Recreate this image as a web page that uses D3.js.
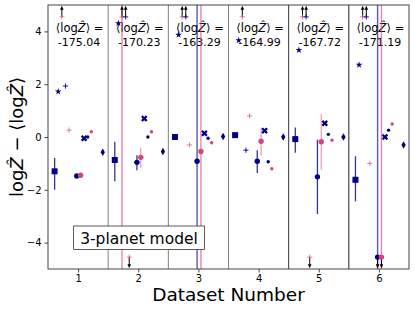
<!DOCTYPE html>
<html>
<head>
<meta charset="utf-8">
<script src="https://cdn.jsdelivr.net/npm/d3@7"></script>
<style>
  body { margin: 0; background: #fff; }
  text { font-family: "DejaVu Sans", sans-serif; }
</style>
</head>
<body>
<div id="chart"></div>
<script>
// Datasets and the mean evidence printed at the top of each panel
const datasets = [1, 2, 3, 4, 5, 6];
const meanLogZ = ["-175.04", "-170.23", "-163.29", "-164.99", "-167.72", "-171.19"];
const yTicks = [-4, -2, 0, 2, 4];

// One array per method (Infinity = off the top, -Infinity = off the bottom)
const squareVals = [-1.3, -0.87, 0.0, 0.07, -0.08, -1.62];
const squareLo = [-2.0, -1.68, null, null, -0.6, -2.44];
const squareHi = [-0.79, -0.18, null, null, 0.36, -0.73];
const starVals = [1.72, 4.31, 3.87, 3.66, 3.29, 2.73];
const pinkTopVals = [Infinity, Infinity, Infinity, Infinity, Infinity, Infinity];
const pinkTopLo = [null, -Infinity, null, null, null, null];
const pinkTopHi = [null, Infinity, null, null, null, null];
const navyPlusVals = [1.93, Infinity, Infinity, -0.5, Infinity, Infinity];
const pinkPlusVals = [0.26, -Infinity, -0.3, 0.8, -Infinity, -1.0];
const navyDotVals = [-1.48, -0.96, -0.92, -0.92, -1.51, -Infinity];
const navyDotLo = [null, -1.26, -Infinity, -1.36, -2.92, -Infinity];
const navyDotHi = [null, -0.69, Infinity, -0.5, -0.1, Infinity];
const pinkDotVals = [-1.45, -0.77, -0.55, -0.16, -0.18, -Infinity];
const pinkDotLo = [null, -1.17, -Infinity, -0.69, -1.24, -Infinity];
const pinkDotHi = [null, -0.41, Infinity, 0.35, 0.87, Infinity];
const xMarkVals = [-0.05, 0.70, 0.14, 0.24, 0.52, 0.0];
const smallNavyVals = [0.0, 0.0, -0.05, -0.94, 0.1, 0.26];
const smallPinkVals = [0.2, 0.2, -0.22, -1.2, -0.12, 0.49];
const diamondVals = [-0.58, -0.55, 0.02, 0.0, 0.0, -0.3];

const NAVY = "#000080";
const PINK = "#d4457c";

// style + horizontal offset of each method inside a panel
const methods = [
  { vals: squareVals, lo: squareLo, hi: squareHi, dx: -0.39, color: NAVY, sym: "square" },
  { vals: starVals, dx: -0.33, color: NAVY, sym: "star" },
  { vals: pinkTopVals, lo: pinkTopLo, hi: pinkTopHi, dx: -0.27, color: PINK, sym: "plus" },
  { vals: navyPlusVals, dx: -0.21, color: NAVY, sym: "plus" },
  { vals: pinkPlusVals, dx: -0.15, color: PINK, sym: "plus" },
  { vals: navyDotVals, lo: navyDotLo, hi: navyDotHi, dx: -0.022, color: NAVY, sym: "dot" },
  { vals: pinkDotVals, lo: pinkDotLo, hi: pinkDotHi, dx: 0.042, color: PINK, sym: "dot" },
  { vals: xMarkVals, dx: 0.1, color: NAVY, sym: "x" },
  { vals: smallNavyVals, dx: 0.16, color: NAVY, sym: "small" },
  { vals: smallPinkVals, dx: 0.22, color: PINK, sym: "small" },
  { vals: diamondVals, dx: 0.41, color: NAVY, sym: "diamond" },
];

const W = 415, H = 309;
const margin = { top: 5, right: 6, bottom: 40, left: 48 };
const svg = d3.select("#chart").append("svg").attr("width", W).attr("height", H);

const x = d3.scaleLinear().domain([0.5, 6.5]).range([margin.left, W - margin.right]);
const y = d3.scaleLinear().domain([-5, 5]).range([H - margin.bottom, margin.top]);
const CLIP = 4.55;

svg.append("clipPath").attr("id", "plot")
  .append("rect")
  .attr("x", x(0.5)).attr("y", y(5))
  .attr("width", x(6.5) - x(0.5)).attr("height", y(-5) - y(5));

// panel separators
const sepColors = ["#808080", "#808080", "#808080", "#333", "#222"];
svg.selectAll("line.sep")
  .data(d3.range(1.5, 6, 1))
  .enter().append("line")
  .attr("class", "sep")
  .attr("x1", (d) => x(d)).attr("x2", (d) => x(d))
  .attr("y1", y(5)).attr("y2", y(-5))
  .attr("stroke", (d, i) => sepColors[i])
  .attr("stroke-width", 1);

// mean log Z annotations
const ann = svg.append("g").selectAll("text")
  .data(datasets).enter().append("text")
  .attr("text-anchor", "middle")
  .attr("font-size", 11)
  .attr("fill", "#000");
ann.append("tspan")
  .attr("x", (d) => x(d) + 1.5).attr("y", 31.5)
  .attr("font-size", 11.5)
  .html("⟨log<tspan font-style='italic'>Ẑ</tspan>⟩ =");
ann.append("tspan")
  .attr("x", (d) => x(d) + 1).attr("y", 46)
  .text((d, i) => meanLogZ[i]);

const g = svg.append("g").attr("clip-path", "url(#plot)");
const clampY = (v) => Math.max(-5.5, Math.min(5.5, v));

// error bars first
methods.forEach((m) => {
  if (!m.lo) return;
  datasets.forEach((ds, i) => {
    if (m.lo[i] === null) return;
    const huge = !isFinite(m.lo[i]) || !isFinite(m.hi[i]);
    g.append("line")
      .attr("x1", x(ds + m.dx)).attr("x2", x(ds + m.dx))
      .attr("y1", y(clampY(m.lo[i]))).attr("y2", y(clampY(m.hi[i])))
      .attr("stroke", m.color)
      .attr("stroke-opacity", huge ? 0.65 : (m.color === PINK ? 0.5 : 0.8))
      .attr("stroke-width", huge ? 1.4 : 1.3);
  });
});

function drawMarker(sel, sym, color) {
  if (sym === "square") {
    sel.append("rect").attr("x", -3).attr("y", -3).attr("width", 6).attr("height", 6).attr("fill", color);
  } else if (sym === "star") {
    sel.append("path").attr("d", d3.symbol(d3.symbolStar, 14)()).attr("fill", color);
  } else if (sym === "plus") {
    sel.append("path").attr("d", "M-2.6,0H2.6M0,-2.6V2.6")
      .attr("stroke", color).attr("stroke-width", 0.9).attr("fill", "none")
      .attr("stroke-opacity", color === PINK ? 0.75 : 1);
  } else if (sym === "dot") {
    sel.append("circle").attr("r", 2.7).attr("fill", color);
  } else if (sym === "x") {
    sel.append("path").attr("d", d3.symbol(d3.symbolCross, 26)())
      .attr("transform", "rotate(45)").attr("fill", color);
  } else if (sym === "small") {
    sel.append("circle").attr("r", 1.7).attr("fill", color);
  } else if (sym === "diamond") {
    sel.append("path").attr("d", d3.symbol(d3.symbolDiamond, 16)()).attr("fill", color);
  }
}

// markers, with arrows for off-scale values
methods.forEach((m) => {
  datasets.forEach((ds, i) => {
    const v = m.vals[i];
    const px = x(ds + m.dx);
    let vy = v;
    if (v === Infinity) vy = CLIP;
    if (v === -Infinity) vy = -CLIP;
    if (!isFinite(v)) {
      const dir = v > 0 ? 1 : -1;
      const tip = y(dir * 4.97);
      g.append("line")
        .attr("x1", px).attr("x2", px)
        .attr("y1", y(vy)).attr("y2", tip + dir * 3)
        .attr("stroke", "#000").attr("stroke-width", 1);
      g.append("path")
        .attr("d", `M${px},${tip}L${px - 1.8},${tip + dir * 4}L${px + 1.8},${tip + dir * 4}Z`)
        .attr("fill", "#000");
    }
    const mk = g.append("g").attr("transform", `translate(${px},${y(vy)})`);
    drawMarker(mk, m.sym, m.color);
  });
});

// frame
svg.append("rect")
  .attr("x", x(0.5)).attr("y", y(5))
  .attr("width", x(6.5) - x(0.5)).attr("height", y(-5) - y(5))
  .attr("fill", "none").attr("stroke", "#444").attr("stroke-width", 1);

// axes
const yAxis = svg.append("g")
  .attr("transform", `translate(${x(0.5)},0)`)
  .call(d3.axisLeft(y).tickValues(yTicks).tickSize(3.5).tickPadding(3)
    .tickFormat((d) => (d < 0 ? "−" + Math.abs(d) : d)));
const xAxis = svg.append("g")
  .attr("transform", `translate(0,${y(-5)})`)
  .call(d3.axisBottom(x).tickValues(datasets).tickSize(3.5).tickPadding(2.5)
    .tickFormat(d3.format("d")));
[yAxis, xAxis].forEach((a) => {
  a.select(".domain").remove();
  a.selectAll("text").attr("font-size", 10).attr("fill", "#000")
    .style("font-family", "DejaVu Sans");
  a.selectAll("line").attr("stroke", "#444");
});

// axis labels
svg.append("text")
  .attr("x", (x(0.5) + x(6.5)) / 2).attr("y", 301)
  .attr("text-anchor", "middle").attr("font-size", 18.5)
  .text("Dataset Number");
svg.append("text")
  .attr("transform", `translate(23,${y(0)}) rotate(-90)`)
  .attr("text-anchor", "middle").attr("font-size", 18)
  .html("log<tspan font-style='italic'>Ẑ</tspan> − ⟨log<tspan font-style='italic'>Ẑ</tspan>⟩");

// model box
const box = svg.append("g");
const boxText = box.append("text")
  .attr("x", 139).attr("y", 243.5)
  .attr("text-anchor", "middle").attr("font-size", 15.5)
  .text("3-planet model");
const bb = boxText.node().getBBox();
box.insert("rect", "text")
  .attr("x", bb.x - 6.5).attr("y", 226)
  .attr("width", bb.width + 13).attr("height", 23.5)
  .attr("fill", "#fff").attr("stroke", "#333").attr("stroke-width", 0.8);
</script>
</body>
</html>
